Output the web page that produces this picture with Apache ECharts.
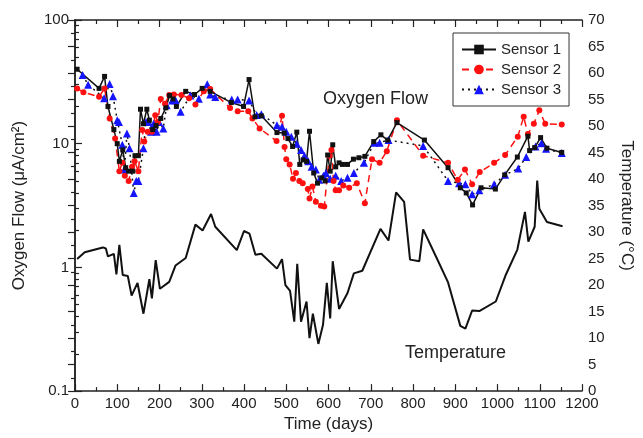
<!DOCTYPE html>
<html>
<head>
<meta charset="utf-8">
<script src="https://cdn.jsdelivr.net/npm/echarts@6/dist/echarts.min.js"></script>
<style>
html, body { margin: 0; padding: 0; background: #fff; }
#chart { width: 643px; height: 438px; }
</style>
</head>
<body>
<div id="chart"></div>
<script>
// sensor readings, [day, oxygen flow uA/cm2]
var sensor1 = [[5, 40], [57, 28], [70, 35], [78, 20], [92, 13], [100, 10], [105, 7.2], [113, 8.9], [120, 6.4], [127, 6.0], [137, 6.0], [142, 8.0], [150, 8.0], [155, 19], [162, 14.5], [170, 19], [176, 15.5], [184, 13], [192, 14], [203, 16], [215, 19.5], [224, 24.5], [232, 23], [240, 20], [262, 26.5], [283, 25], [301, 28], [320, 26.5], [370, 21.5], [399, 20], [412, 33], [426, 16.5], [441, 16.8], [478, 12.3], [495, 12.2], [504, 11], [515, 9.5], [525, 12.4], [532, 6.8], [540, 7.4], [548, 7.2], [555, 12.6], [565, 5.8], [574, 4.8], [584, 5.3], [592, 5.0], [598, 8.1], [604, 6.0], [610, 9.8], [617, 6.5], [625, 7.0], [633, 6.8], [645, 6.8], [659, 7.5], [672, 7.7], [686, 7.9], [707, 10.4], [724, 11.8], [740, 10.7], [762, 14.8], [827, 10.7], [883, 6.4], [912, 4.4], [926, 4.0], [941, 3.2], [961, 4.4], [995, 4.3], [1017, 5.6], [1047, 7.8], [1072, 11.5], [1076, 8.8], [1088, 9.3], [1102, 11.2], [1117, 9.2], [1152, 8.5]];

var sensor2 = [[5, 28], [20, 26], [57, 24], [70, 28], [82, 16], [95, 11], [105, 6.0], [112, 7.0], [118, 5.5], [127, 5.0], [135, 6.5], [141, 7.2], [150, 6.0], [159, 12.9], [164, 10.4], [172, 12.5], [182, 12.5], [190, 17], [196, 15], [203, 23], [213, 21], [223, 24.8], [234, 25], [252, 24.8], [270, 23.3], [285, 20.7], [305, 26.6], [320, 27.7], [367, 19.4], [385, 18.3], [410, 18.3], [420, 16], [437, 13.3], [477, 10.5], [490, 16.8], [496, 9.4], [500, 7.5], [508, 6.8], [516, 5.2], [523, 5.8], [531, 5.0], [539, 4.8], [551, 4.3], [555, 3.6], [562, 4.5], [570, 3.4], [582, 3.15], [590, 3.1], [602, 8.0], [607, 8.9], [612, 5.0], [617, 4.2], [625, 4.2], [635, 4.6], [649, 4.4], [667, 4.8], [686, 3.3], [703, 7.5], [721, 7.0], [738, 8.7], [762, 15.5], [824, 8.0], [883, 7.0], [906, 5.1], [923, 6.2], [940, 4.7], [958, 5.9], [992, 7.0], [1018, 8.1], [1048, 11.4], [1062, 16.5], [1072, 12], [1086, 14.5], [1099, 18.6], [1113, 14.5], [1152, 14.3]];

var sensor3 = [[18, 36], [31, 30], [69, 23.3], [82, 30.4], [90, 24.2], [100, 15.5], [104, 15], [112, 9.8], [117, 6.2], [123, 12.1], [129, 9.2], [139, 4.0], [145, 5.0], [150, 5.0], [162, 9.2], [168, 15], [173, 15], [180, 12.5], [186, 14.5], [193, 12.5], [199, 15], [209, 13.3], [217, 20.5], [230, 22.3], [238, 22.5], [250, 18.1], [273, 24.5], [293, 23.1], [313, 30.3], [320, 25], [332, 23.8], [371, 22.8], [385, 22.8], [412, 22.3], [430, 17.1], [441, 17.3], [478, 14.1], [490, 13.7], [500, 12.5], [512, 11.4], [525, 10], [535, 8.9], [543, 8.0], [552, 7.2], [560, 6.5], [570, 6.2], [578, 5.1], [588, 5.5], [594, 5.8], [604, 5.2], [617, 5.5], [630, 5.0], [645, 5.3], [660, 5.8], [684, 7.0], [709, 10.2], [721, 10.2], [742, 10.7], [824, 9.6], [883, 5.0], [909, 4.8], [924, 4.7], [940, 3.9], [957, 4.2], [992, 4.7], [1018, 5.6], [1049, 6.3], [1068, 7.8], [1090, 9.5], [1104, 10.1], [1115, 9.1], [1152, 8.4]];

// temperature, [day, degC]
var temperature = [[5, 24.9], [23, 26.2], [66, 27.1], [73, 26.9], [78, 25.4], [92, 25.9], [98, 22.0], [105, 27.6], [113, 21.9], [125, 21.7], [134, 18.0], [148, 20.4], [162, 14.6], [176, 21.1], [182, 17.5], [191, 24.7], [201, 19.3], [223, 20.6], [238, 23.7], [262, 25.1], [285, 31.4], [302, 30.3], [322, 33.4], [332, 31.0], [383, 26.6], [400, 30.2], [413, 29.7], [427, 25.7], [441, 25.9], [478, 23.1], [490, 24.9], [498, 20.0], [509, 18.9], [519, 13.1], [526, 24.0], [535, 13.1], [548, 16.9], [555, 10.0], [563, 14.6], [576, 8.9], [587, 12.5], [596, 20.4], [604, 13.7], [610, 24.5], [625, 15.5], [645, 18.5], [660, 22.2], [680, 22.7], [723, 30.6], [742, 28.4], [760, 37.5], [779, 35.7], [793, 24.8], [815, 24.5], [824, 30.5], [856, 25.1], [883, 20.5], [912, 12.3], [924, 11.8], [940, 15.2], [957, 15.1], [996, 16.9], [1020, 22.0], [1047, 26.7], [1065, 33.8], [1073, 28.2], [1088, 31.0], [1094, 39.7], [1099, 34.4], [1117, 31.9], [1154, 31.1]];

var logMinorTicks = [0.2, 0.3, 0.4, 0.5, 0.6, 0.7, 0.8, 0.9, 2, 3, 4, 5, 6, 7, 8, 9, 20, 30, 40, 50, 60, 70, 80, 90];

var font = "'Liberation Sans', Arial, sans-serif";
var axisCol = '#222';

var chart = echarts.init(document.getElementById('chart'));

var option = {
    animation: false,
    backgroundColor: '#fff',
    textStyle: { fontFamily: font },
    grid: { left: 75, right: 56, top: 20, bottom: 41, containLabel: false },
    legend: {
        orient: 'vertical',
        left: 453,
        top: 33,
        padding: [9, 8, 9, 8],
        itemGap: 5,
        itemWidth: 34,
        itemHeight: 12,
        borderColor: '#333',
        borderWidth: 1,
        textStyle: { fontFamily: font, fontSize: 15, color: '#222' },
        data: ['Sensor 1', 'Sensor 2', 'Sensor 3']
    },
    xAxis: [
        {
            type: 'value', position: 'bottom', min: 0, max: 1200, interval: 100,
            name: 'Time (days)', nameLocation: 'middle', nameGap: 21,
            nameTextStyle: { fontSize: 17, color: '#222', fontFamily: font },
            axisLine: { lineStyle: { color: axisCol, width: 1.5 } },
            axisTick: { inside: true, length: 7, lineStyle: { color: axisCol, width: 1.2 } },
            minorTick: { show: true, splitNumber: 2, length: 4, lineStyle: { color: axisCol, width: 1.2 } },
            axisLabel: { fontSize: 15, color: '#222', margin: 5, formatter: function (v) { return String(v); } },
            splitLine: { show: false }
        },
        {
            type: 'value', position: 'top', min: 0, max: 1200, interval: 100,
            axisLine: { lineStyle: { color: axisCol, width: 1.5 } },
            axisTick: { inside: true, length: 7, lineStyle: { color: axisCol, width: 1.2 } },
            minorTick: { show: true, splitNumber: 2, length: 4, lineStyle: { color: axisCol, width: 1.2 } },
            axisLabel: { show: false },
            splitLine: { show: false }
        }
    ],
    yAxis: [
        {
            type: 'log', logBase: 10, min: 0.1, max: 100, position: 'left',
            name: 'Oxygen Flow (\u03bcA/cm\u00b2)', nameLocation: 'middle', nameGap: 47,
            nameTextStyle: { fontSize: 17, color: '#222', fontFamily: font },
            axisLine: { show: true, lineStyle: { color: axisCol, width: 1.5 } },
            axisTick: { inside: true, length: 7, lineStyle: { color: axisCol, width: 1.2 } },
            axisLabel: { fontSize: 15, color: '#222', margin: 6 },
            splitLine: { show: false }
        },
        {
            type: 'value', min: 0, max: 70, interval: 5, position: 'right',
            name: 'Temperature (\u00b0C)', nameLocation: 'middle', nameGap: 36, nameRotate: -90,
            nameTextStyle: { fontSize: 17, color: '#222', fontFamily: font },
            axisLine: { show: true, lineStyle: { color: axisCol, width: 1.5 } },
            axisTick: { inside: true, length: 7, lineStyle: { color: axisCol, width: 1.2 } },
            minorTick: { show: true, splitNumber: 2, length: 4, lineStyle: { color: axisCol, width: 1.2 } },
            axisLabel: { fontSize: 15, color: '#222', margin: 6 },
            splitLine: { show: false }
        },
        {
            // minor ticks 2..9 per decade on the log axis
            type: 'log', logBase: 10, min: 0.1, max: 100, position: 'left',
            axisLine: { show: false },
            axisTick: { show: true, inside: true, length: 4, customValues: logMinorTicks, lineStyle: { color: axisCol, width: 1.2 } },
            axisLabel: { show: false },
            splitLine: { show: false }
        }
    ],
    graphic: [
        { type: 'text', left: 323, top: 90, style: { text: 'Oxygen Flow', font: '18px ' + font, fill: '#222' } },
        { type: 'text', left: 405, top: 344, style: { text: 'Temperature', font: '18px ' + font, fill: '#222' } }
    ],
    series: [
        {
            name: 'Temperature', type: 'line', yAxisIndex: 1, data: temperature,
            showSymbol: false, symbol: 'none',
            lineStyle: { color: '#111', width: 2 }
        },
        {
            name: 'Sensor 3', type: 'line', yAxisIndex: 0, data: sensor3,
            symbol: 'triangle', symbolSize: 8,
            itemStyle: { color: '#1414ff' },
            lineStyle: { color: '#111', width: 1.5, type: [2, 4] }
        },
        {
            name: 'Sensor 2', type: 'line', yAxisIndex: 0, data: sensor2,
            symbol: 'circle', symbolSize: 6,
            itemStyle: { color: '#ff1010' },
            lineStyle: { color: '#ff1010', width: 1.5, type: [7, 5] }
        },
        {
            name: 'Sensor 1', type: 'line', yAxisIndex: 0, data: sensor1,
            symbol: 'rect', symbolSize: 5,
            itemStyle: { color: '#111' },
            lineStyle: { color: '#111', width: 1.5 }
        }
    ]
};

chart.setOption(option);
</script>
</body>
</html>
